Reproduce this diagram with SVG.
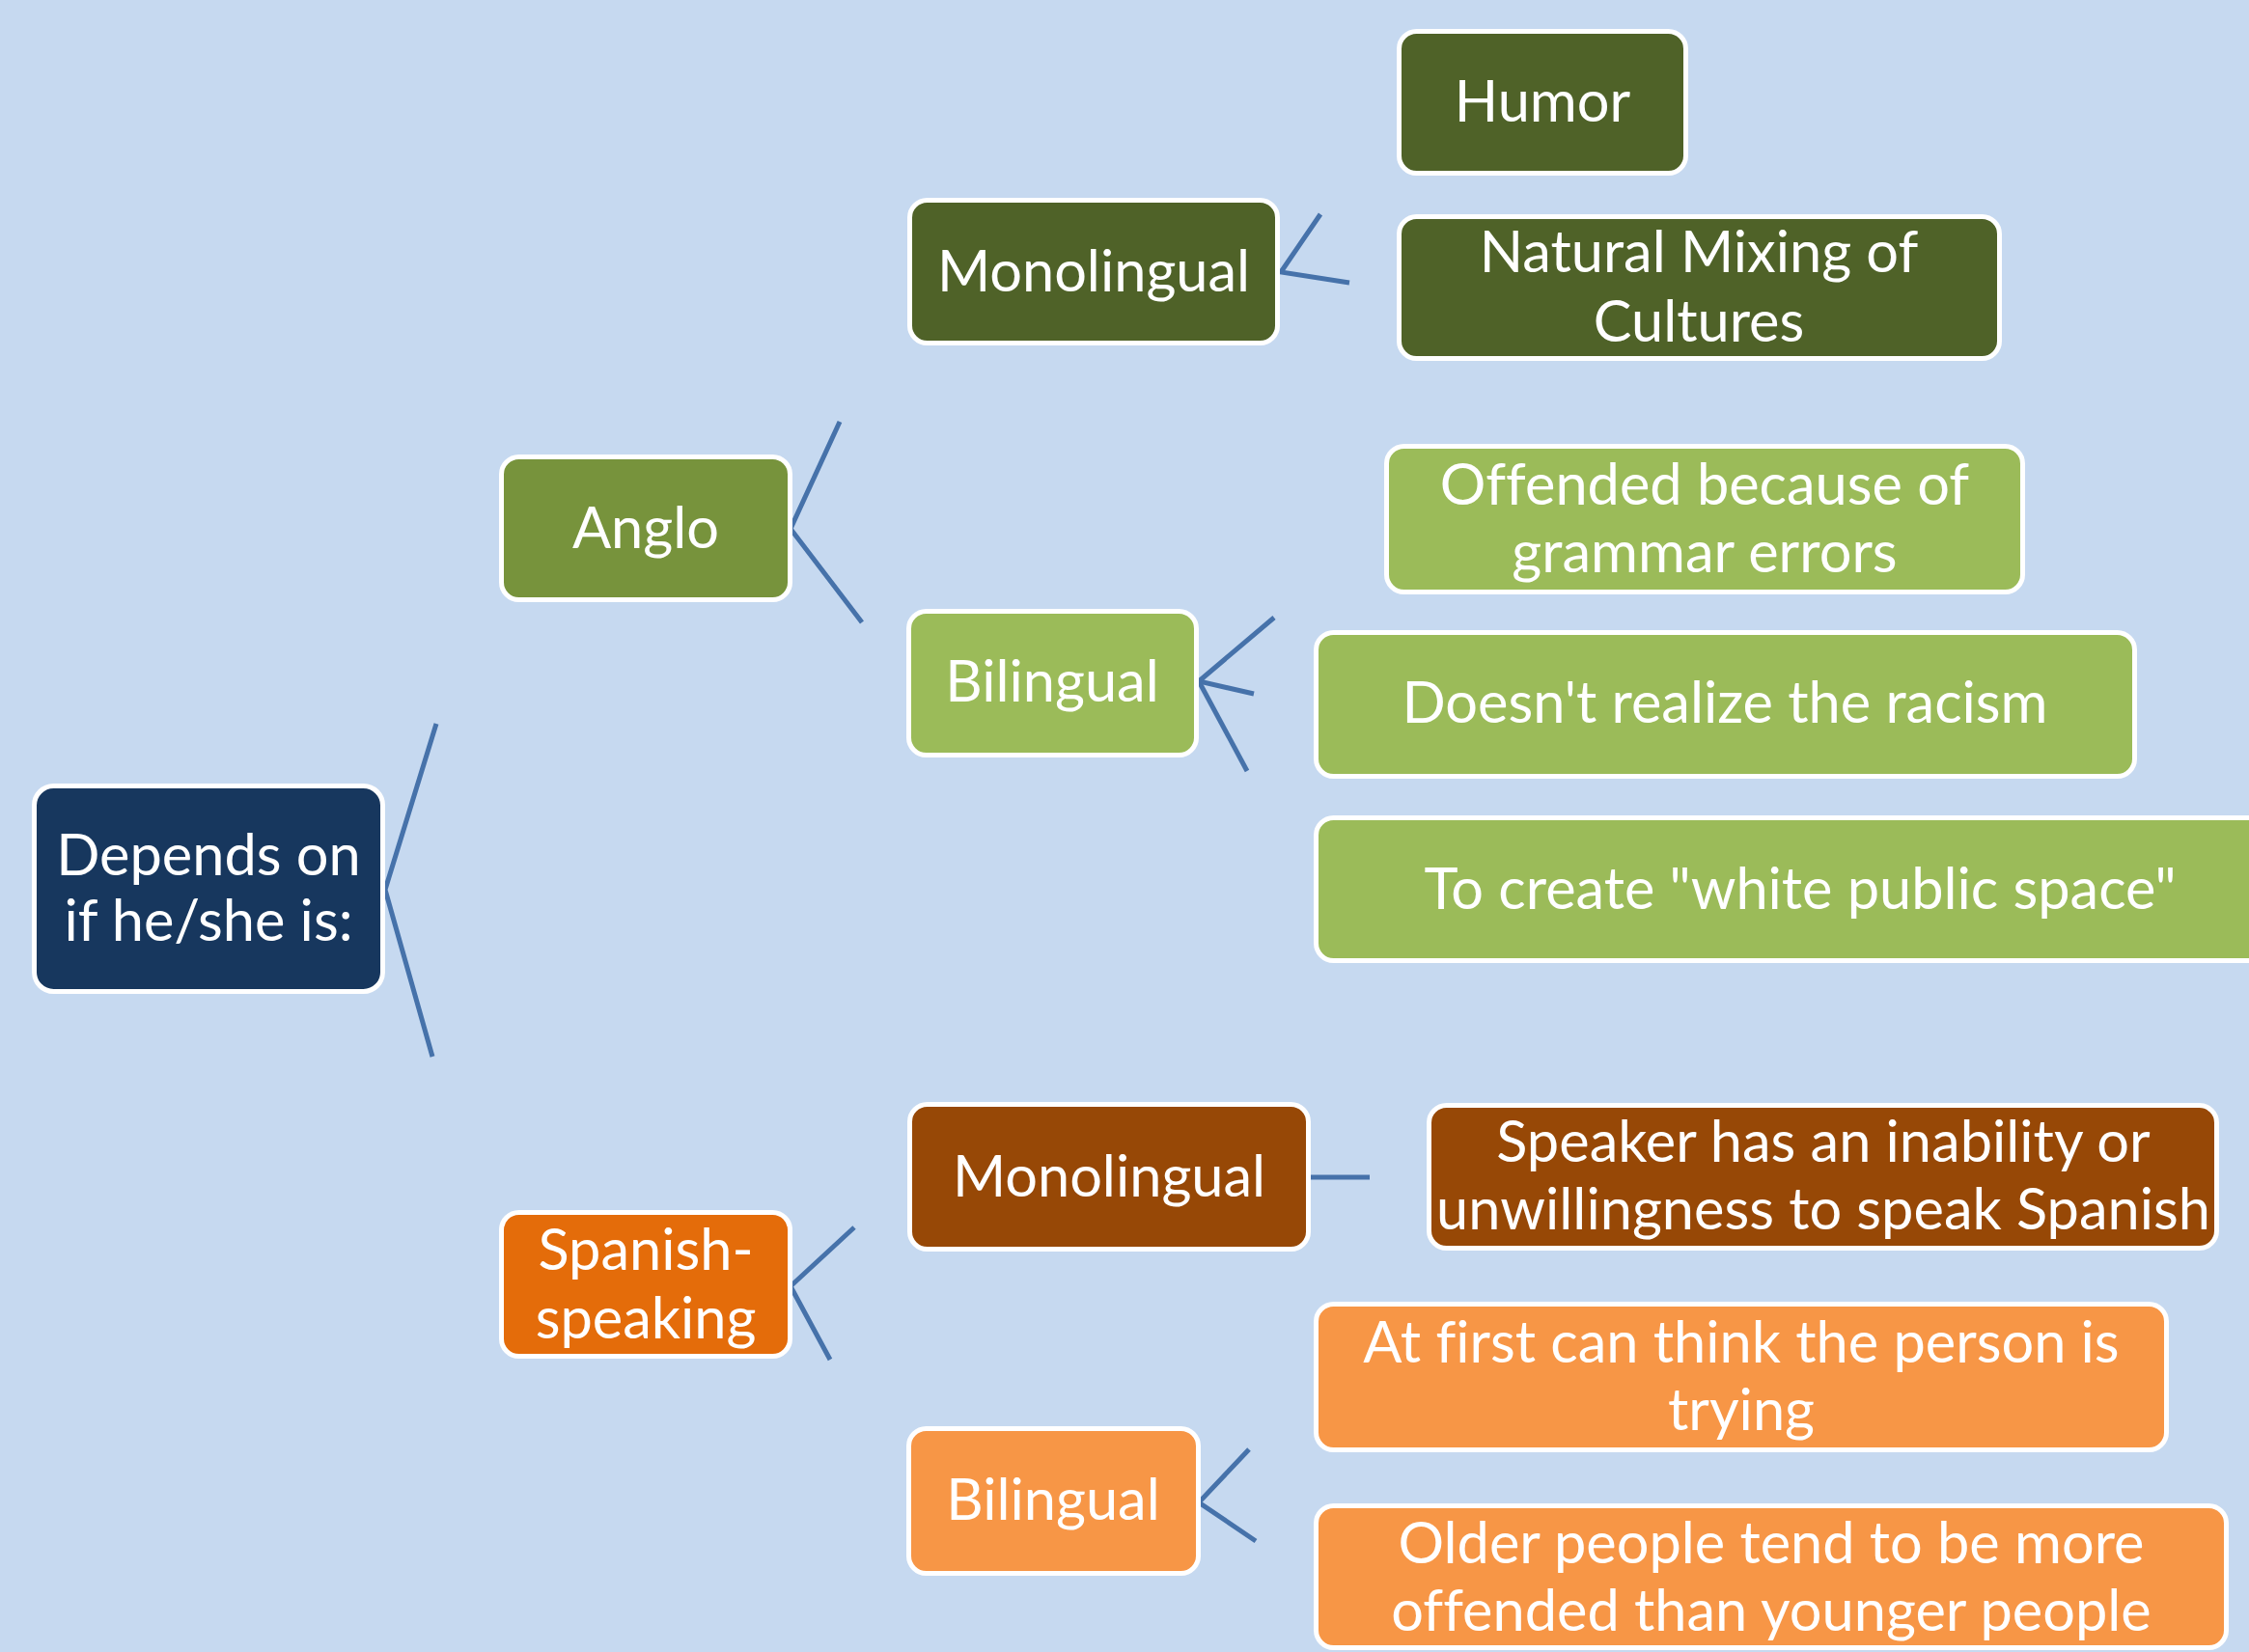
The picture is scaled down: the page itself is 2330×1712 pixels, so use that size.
<svg xmlns="http://www.w3.org/2000/svg" width="2330" height="1712" viewBox="0 0 2330 1712">
<style>
.box{stroke:#FFFFFF;stroke-width:5}
.t{font-family:Lato,"Open Sans","Liberation Sans",sans-serif;font-size:59.5px;fill:#FFFFFF;text-anchor:middle;font-variant-ligatures:none}
.c{fill:none;stroke:#4672AA;stroke-width:5;stroke-linejoin:miter}
</style>
<rect x="0" y="0" width="2330" height="1712" fill="#C6D9F0"/>
<g id="connectors">
<polyline class="c" points="452,750 399,922 448,1095"/>
<polyline class="c" points="870,437 819,548 893,645"/>
<polyline class="c" points="1368,222 1327,282 1398,293"/>
<polyline class="c" points="1320,640 1242,706 1299,719"/>
<polyline class="c" points="1242,706 1292,799"/>
<polyline class="c" points="885,1272 819,1333 860,1409"/>
<polyline class="c" points="1358,1220 1419,1220"/>
<polyline class="c" points="1294,1502 1242,1557 1301,1597"/>
</g>
<g id="root"><rect class="box" x="35.5" y="814.5" width="361" height="213" rx="20" fill="#17375E"/>
<text class="t" x="216" y="907">Depends on</text><text class="t" x="216" y="975">if he/she is:</text></g>
<g id="anglo"><rect class="box" x="519.5" y="473.5" width="299" height="148" rx="18" fill="#77933C"/>
<text class="t" x="669" y="568">Anglo</text></g>
<g id="anglo-monolingual"><rect class="box" x="942.5" y="207.5" width="381" height="148" rx="18" fill="#4F6228"/>
<text class="t" x="1133" y="302">Monolingual</text></g>
<g id="humor"><rect class="box" x="1449.5" y="32.5" width="297" height="147" rx="18" fill="#4F6228"/>
<text class="t" x="1598" y="126">Humor</text></g>
<g id="natural-mixing"><rect class="box" x="1449.5" y="224.5" width="622" height="147" rx="18" fill="#4F6228"/>
<text class="t" x="1760" y="282">Natural Mixing of</text><text class="t" x="1760" y="354">Cultures</text></g>
<g id="anglo-bilingual"><rect class="box" x="941.5" y="633.5" width="298" height="149" rx="18" fill="#9BBB59"/>
<text class="t" x="1090" y="727">Bilingual</text></g>
<g id="offended"><rect class="box" x="1436.5" y="462.5" width="659" height="151" rx="18" fill="#9BBB59"/>
<text class="t" x="1766" y="523">Offended because of</text><text class="t" x="1766" y="593">grammar errors</text></g>
<g id="doesnt-realize"><rect class="box" x="1363.5" y="655.5" width="848" height="149" rx="18" fill="#9BBB59"/>
<text class="t" x="1787" y="749">Doesn't realize the racism</text></g>
<g id="white-public-space"><rect class="box" x="1363.5" y="847.5" width="1004" height="148" rx="18" fill="#9BBB59"/>
<text class="t" x="1865" y="942">To create "white public space"</text></g>
<g id="spanish-speaking"><rect class="box" x="519.5" y="1256.5" width="299" height="149" rx="18" fill="#E46C0A"/>
<text class="t" x="669" y="1316">Spanish-</text><text class="t" x="669" y="1387">speaking</text></g>
<g id="spanish-monolingual"><rect class="box" x="942.5" y="1144.5" width="413" height="150" rx="18" fill="#974806"/>
<text class="t" x="1149" y="1240">Monolingual</text></g>
<g id="speaker-inability"><rect class="box" x="1480.5" y="1145.5" width="816" height="148" rx="18" fill="#974806"/>
<text class="t" x="1889" y="1204">Speaker has an inability or</text><text class="t" x="1889" y="1274">unwillingness to speak Spanish</text></g>
<g id="spanish-bilingual"><rect class="box" x="941.5" y="1480.5" width="300" height="150" rx="18" fill="#F79646"/>
<text class="t" x="1091" y="1575">Bilingual</text></g>
<g id="at-first"><rect class="box" x="1363.5" y="1351.5" width="881" height="151" rx="18" fill="#F79646"/>
<text class="t" x="1804" y="1412">At first can think the person is</text><text class="t" x="1804" y="1482">trying</text></g>
<g id="older-people"><rect class="box" x="1363.5" y="1560.5" width="943" height="147" rx="18" fill="#F79646"/>
<text class="t" x="1835" y="1620">Older people tend to be more</text><text class="t" x="1835" y="1690">offended than younger people</text></g>
</svg>
